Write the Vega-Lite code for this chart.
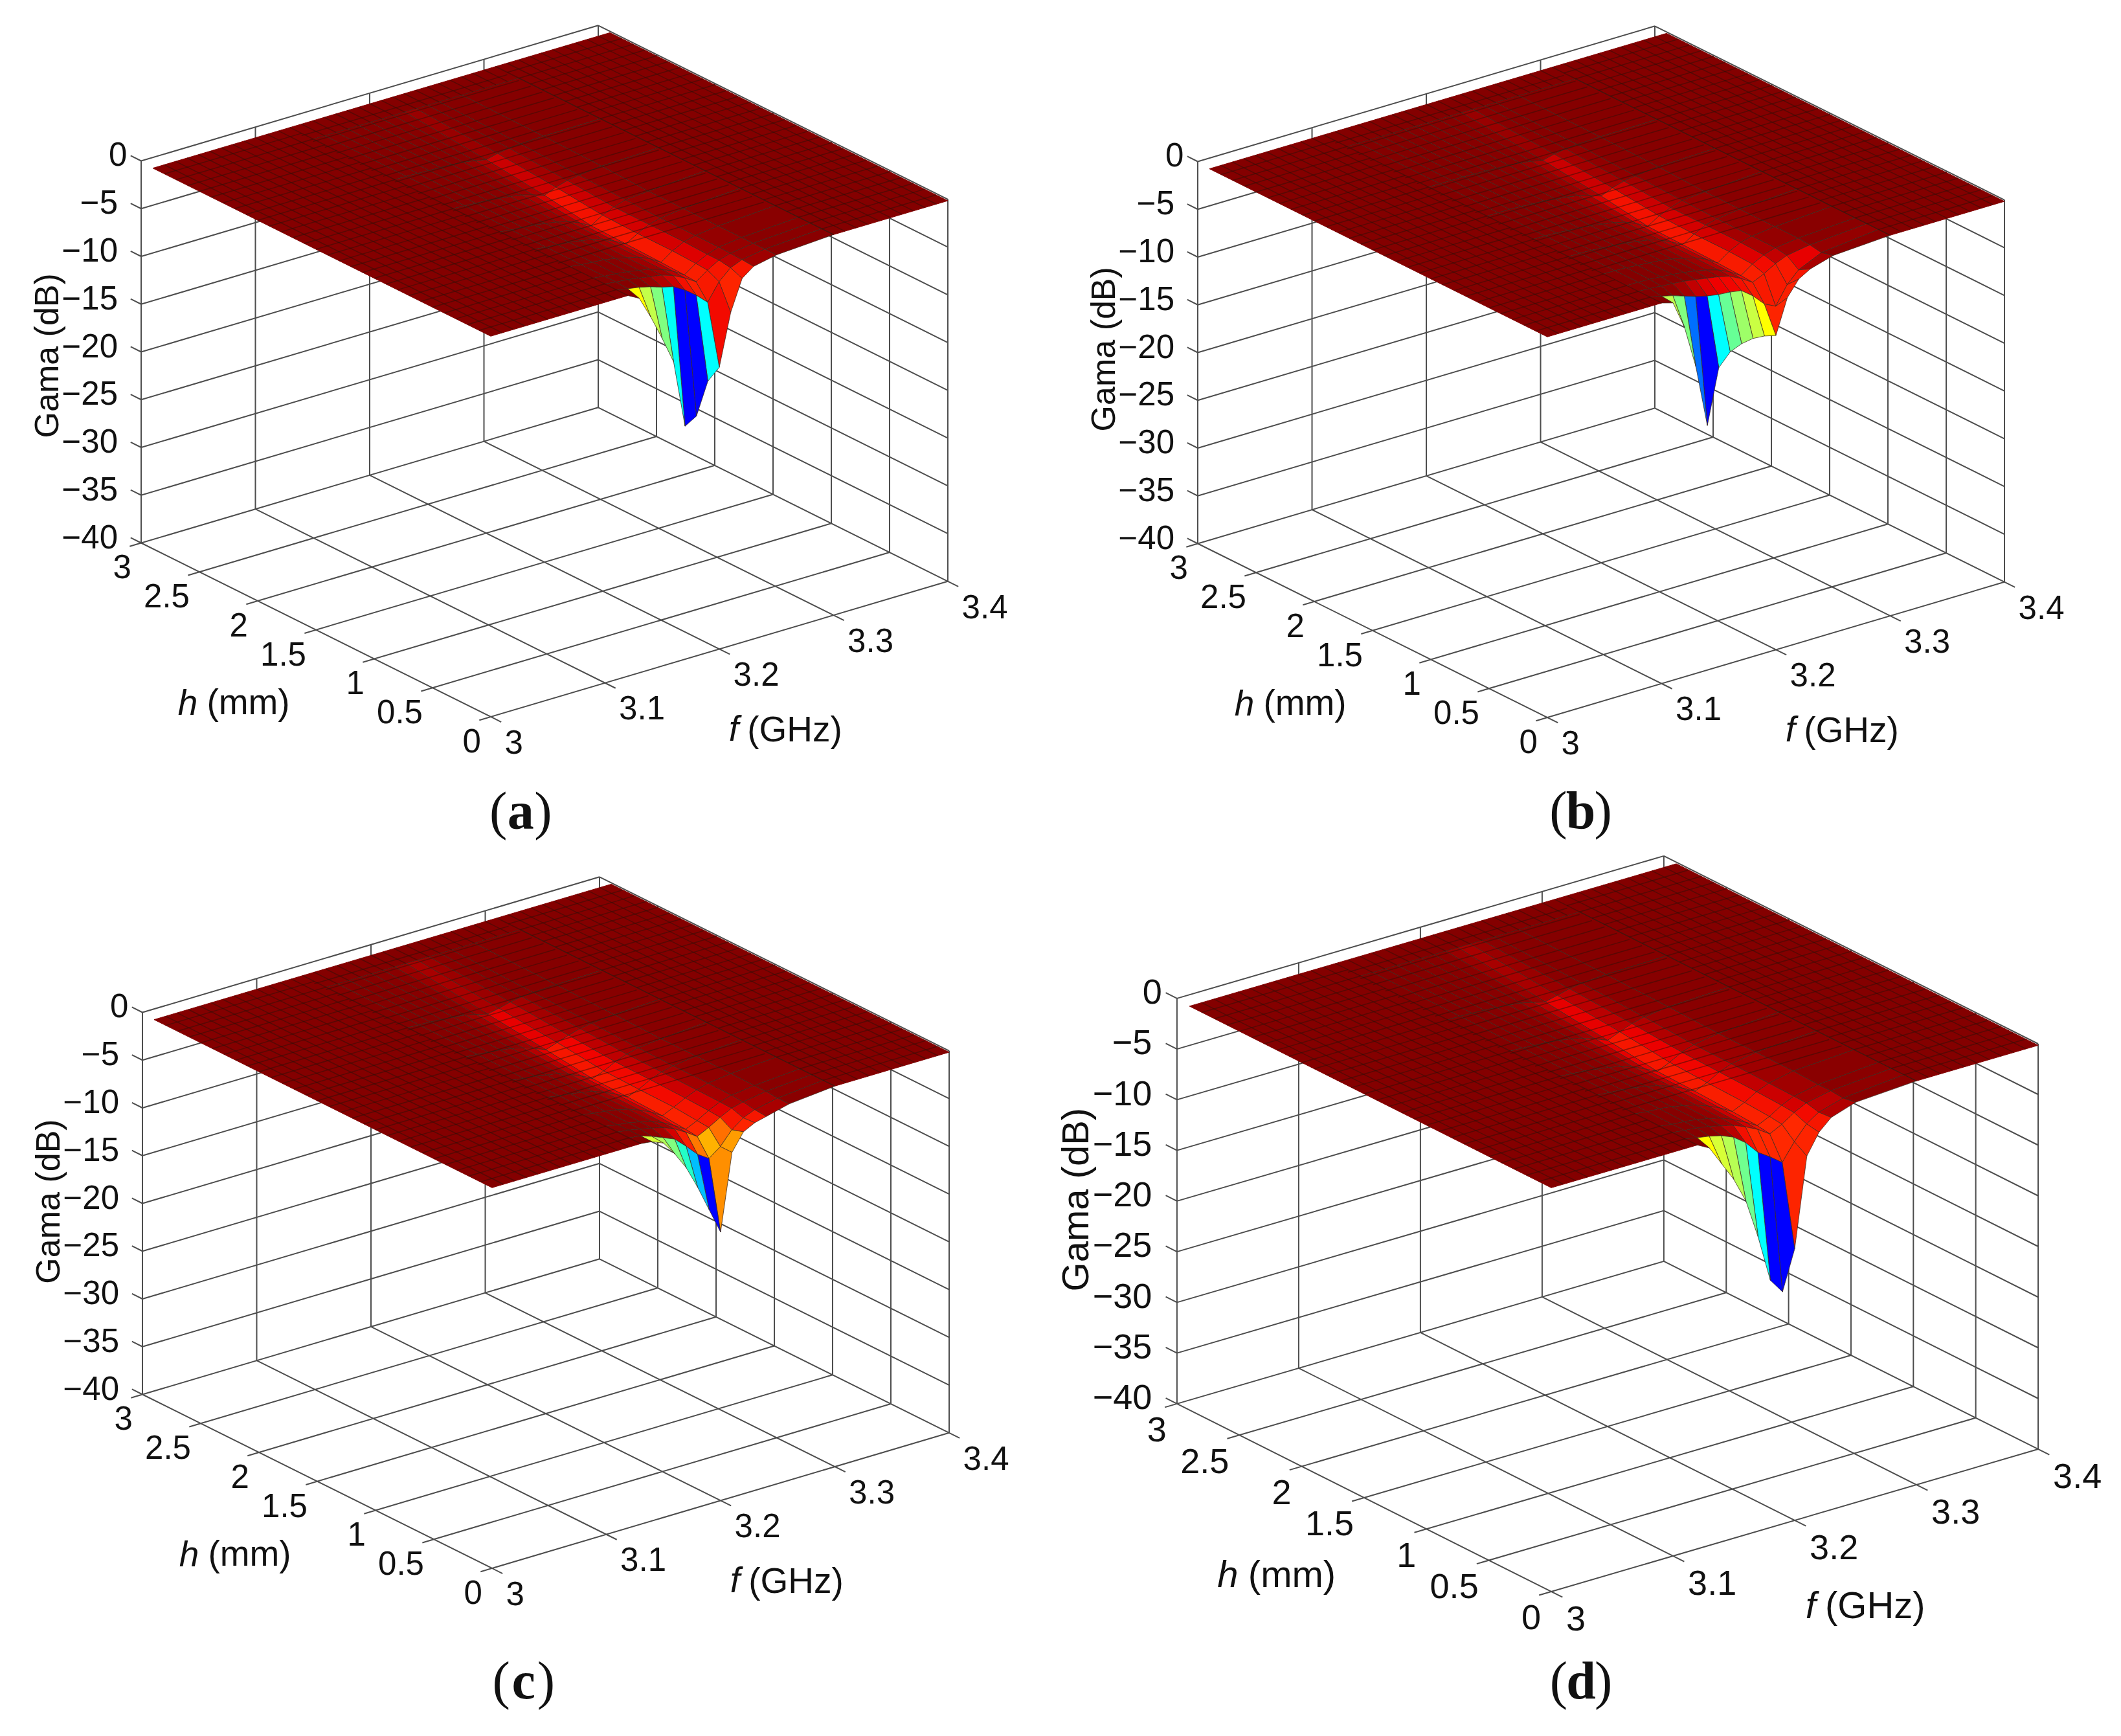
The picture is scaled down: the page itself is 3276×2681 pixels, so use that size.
{"$schema":"https://vega.github.io/schema/vega-lite/v6.json","width":3276,"height":2681,"autosize":{"type":"fit","contains":"padding"},"padding":0,"background":"white","config":{"view":{"stroke":null}},
"params":[{"name":"P","expr":"{a:{x:758,y:1107,fx:1765,fy:-523,hx:-180,hy:-89.5,gy:14.75,w1:3.12,cf:2.911,ch:-1.13,fs:51,ts:55,gs:52,gg:-25.25},b:{x:2390,y:1108,fx:1765,fy:-523,hx:-180,hy:-89.5,gy:14.75,w1:3.10,cf:2.914,ch:-1.13,fs:51,ts:55,gs:52,gg:-24.5},c:{x:760,y:2422,fx:1765,fy:-523,hx:-180,hy:-89.5,gy:14.75,w1:3.13,cf:2.892,ch:-1.33,fs:51,ts:55,gs:52,gg:-24.65},d:{x:2396,y:2458,fx:1880,fy:-550,hx:-192.7,hy:-96.7,gy:15.65,w1:3.12,cf:2.922,ch:-1.0,fs:54,ts:58,gs:58,gg:-24.8}}"},{"name":"A","expr":"{h:[2.843,1.145,-40],hu:[2.859,1.054,-40],f:[3.116,-0.906,-40],fu:[3.126,-0.966,-40]}"}],
"encoding":{"x":{"field":"X","type":"quantitative","axis":null,"scale":{"domain":[0,3276],"nice":false,"zero":false}},"y":{"field":"Y","type":"quantitative","axis":null,"scale":{"domain":[0,2681],"nice":false,"zero":false,"reverse":true}}},
"datasets":{
"box":[{"k":"F","v":3},{"k":"F","v":3.1},{"k":"F","v":3.2},{"k":"F","v":3.3},{"k":"F","v":3.4},{"k":"H","v":0},{"k":"H","v":0.5},{"k":"H","v":1},{"k":"H","v":1.5},{"k":"H","v":2},{"k":"H","v":2.5},{"k":"H","v":3},{"k":"VL","v":3},{"k":"VL","v":3.1},{"k":"VL","v":3.2},{"k":"VL","v":3.3},{"k":"VL","v":3.4},{"k":"VR","v":0},{"k":"VR","v":0.5},{"k":"VR","v":1},{"k":"VR","v":1.5},{"k":"VR","v":2},{"k":"VR","v":2.5},{"k":"GT","v":-40},{"k":"GT","v":-35},{"k":"GT","v":-30},{"k":"GT","v":-25},{"k":"GT","v":-20},{"k":"GT","v":-15},{"k":"GT","v":-10},{"k":"GT","v":-5},{"k":"GT","v":0},{"k":"GL","v":-35},{"k":"GL","v":-30},{"k":"GL","v":-25},{"k":"GL","v":-20},{"k":"GL","v":-15},{"k":"GL","v":-10},{"k":"GL","v":-5},{"k":"GL","v":0},{"k":"GR","v":-35},{"k":"GR","v":-30},{"k":"GR","v":-25},{"k":"GR","v":-20},{"k":"GR","v":-15},{"k":"GR","v":-10},{"k":"GR","v":-5},{"k":"GR","v":0}],
"patches":[{"p":"a","z":"far"},{"p":"a","z":"mid"},{"p":"a","z":"near"},{"p":"b","z":"far"},{"p":"b","z":"mid"},{"p":"b","z":"near"},{"p":"c","z":"far"},{"p":"c","z":"mid"},{"p":"c","z":"near"},{"p":"d","z":"far"},{"p":"d","z":"mid"},{"p":"d","z":"near"}],
"labels":[{"a":"g","v":0,"t":"0"},{"a":"g","v":-5,"t":"−5"},{"a":"g","v":-10,"t":"−10"},{"a":"g","v":-15,"t":"−15"},{"a":"g","v":-20,"t":"−20"},{"a":"g","v":-25,"t":"−25"},{"a":"g","v":-30,"t":"−30"},{"a":"g","v":-35,"t":"−35"},{"a":"g","v":-40,"t":"−40"},{"a":"h","v":0,"t":"0"},{"a":"h","v":0.5,"t":"0.5"},{"a":"h","v":1,"t":"1"},{"a":"h","v":1.5,"t":"1.5"},{"a":"h","v":2,"t":"2"},{"a":"h","v":2.5,"t":"2.5"},{"a":"h","v":3,"t":"3"},{"a":"f","v":3,"t":"3"},{"a":"f","v":3.1,"t":"3.1"},{"a":"f","v":3.2,"t":"3.2"},{"a":"f","v":3.3,"t":"3.3"},{"a":"f","v":3.4,"t":"3.4"}],
"titles":[{"k":"h","t":"h"},{"k":"f","t":"f"},{"k":"hu","t":"(mm)"},{"k":"fu","t":"(GHz)"},{"k":"g","t":"Gama (dB)"}],
"tags":[{"p":"a","l":"a"},{"p":"b","l":"b"},{"p":"c","l":"c"},{"p":"d","l":"d"}],
"flat":[{"k":"f","v":3.01},{"k":"f","v":3.02},{"k":"f","v":3.03},{"k":"f","v":3.04},{"k":"f","v":3.05},{"k":"f","v":3.06},{"k":"f","v":3.07},{"k":"f","v":3.08},{"k":"f","v":3.09},{"k":"f","v":3.1},{"k":"f","v":3.11},{"k":"f","v":3.12},{"k":"f","v":3.13},{"k":"f","v":3.14},{"k":"f","v":3.15},{"k":"f","v":3.16},{"k":"f","v":3.17},{"k":"f","v":3.18},{"k":"f","v":3.19},{"k":"f","v":3.2},{"k":"f","v":3.21},{"k":"f","v":3.22},{"k":"f","v":3.23},{"k":"f","v":3.24},{"k":"f","v":3.25},{"k":"f","v":3.26},{"k":"f","v":3.27},{"k":"f","v":3.28},{"k":"f","v":3.29},{"k":"f","v":3.3},{"k":"f","v":3.31},{"k":"f","v":3.32},{"k":"f","v":3.33},{"k":"f","v":3.34},{"k":"f","v":3.35},{"k":"f","v":3.36},{"k":"f","v":3.37},{"k":"f","v":3.38},{"k":"f","v":3.39},{"k":"h","v":0.1},{"k":"h","v":0.2},{"k":"h","v":0.3},{"k":"h","v":0.4},{"k":"h","v":0.5},{"k":"h","v":0.6},{"k":"h","v":0.7},{"k":"h","v":0.8},{"k":"h","v":0.9},{"k":"h","v":1},{"k":"h","v":1.1},{"k":"h","v":1.2},{"k":"h","v":1.3},{"k":"h","v":1.4},{"k":"h","v":1.5},{"k":"h","v":1.6},{"k":"h","v":1.7},{"k":"h","v":1.8},{"k":"h","v":1.9},{"k":"h","v":2},{"k":"h","v":2.1},{"k":"h","v":2.2},{"k":"h","v":2.3},{"k":"h","v":2.4},{"k":"h","v":2.5},{"k":"h","v":2.6},{"k":"h","v":2.7},{"k":"h","v":2.8}],
"nodes":[
{"p":"a","h":2.7,"f":3.3,"g":-0.15},{"p":"a","h":2.7,"f":3.25,"g":-0.15},{"p":"a","h":2.7,"f":3.23,"g":-0.15},{"p":"a","h":2.7,"f":3.22,"g":-0.15},{"p":"a","h":2.7,"f":3.21,"g":-0.15},{"p":"a","h":2.7,"f":3.2,"g":-0.15},{"p":"a","h":2.7,"f":3.19,"g":-0.15},{"p":"a","h":2.7,"f":3.18,"g":-0.15},{"p":"a","h":2.7,"f":3.17,"g":-0.15},{"p":"a","h":2.7,"f":3.16,"g":-0.15},{"p":"a","h":2.7,"f":3.15,"g":-0.15},{"p":"a","h":2.7,"f":3.14,"g":-0.15},{"p":"a","h":2.7,"f":3.13,"g":-0.15},{"p":"a","h":2.7,"f":3.12,"g":-0.15},
{"p":"a","h":2,"f":3.3,"g":-0.15},{"p":"a","h":2,"f":3.25,"g":-0.2},{"p":"a","h":2,"f":3.23,"g":-0.3},{"p":"a","h":2,"f":3.22,"g":-0.4},{"p":"a","h":2,"f":3.21,"g":-0.6},{"p":"a","h":2,"f":3.2,"g":-0.9},{"p":"a","h":2,"f":3.19,"g":-0.65},{"p":"a","h":2,"f":3.18,"g":-0.45},{"p":"a","h":2,"f":3.17,"g":-0.35},{"p":"a","h":2,"f":3.16,"g":-0.3},{"p":"a","h":2,"f":3.15,"g":-0.25},{"p":"a","h":2,"f":3.14,"g":-0.2},{"p":"a","h":2,"f":3.13,"g":-0.15},{"p":"a","h":2,"f":3.12,"g":-0.15},
{"p":"a","h":1.5,"f":3.3,"g":-0.15},{"p":"a","h":1.5,"f":3.25,"g":-0.3},{"p":"a","h":1.5,"f":3.23,"g":-0.55},{"p":"a","h":1.5,"f":3.22,"g":-0.75},{"p":"a","h":1.5,"f":3.21,"g":-1.1},{"p":"a","h":1.5,"f":3.2,"g":-1.6},{"p":"a","h":1.5,"f":3.19,"g":-1.2},{"p":"a","h":1.5,"f":3.18,"g":-0.85},{"p":"a","h":1.5,"f":3.17,"g":-0.65},{"p":"a","h":1.5,"f":3.16,"g":-0.5},{"p":"a","h":1.5,"f":3.15,"g":-0.35},{"p":"a","h":1.5,"f":3.14,"g":-0.3},{"p":"a","h":1.5,"f":3.13,"g":-0.2},{"p":"a","h":1.5,"f":3.12,"g":-0.15},
{"p":"a","h":1.1,"f":3.3,"g":-0.15},{"p":"a","h":1.1,"f":3.25,"g":-0.5},{"p":"a","h":1.1,"f":3.23,"g":-0.7},{"p":"a","h":1.1,"f":3.22,"g":-1.1},{"p":"a","h":1.1,"f":3.21,"g":-1.6},{"p":"a","h":1.1,"f":3.2,"g":-2.35},{"p":"a","h":1.1,"f":3.19,"g":-1.7},{"p":"a","h":1.1,"f":3.18,"g":-1.2},{"p":"a","h":1.1,"f":3.17,"g":-0.9},{"p":"a","h":1.1,"f":3.16,"g":-0.7},{"p":"a","h":1.1,"f":3.15,"g":-0.5},{"p":"a","h":1.1,"f":3.14,"g":-0.4},{"p":"a","h":1.1,"f":3.13,"g":-0.3},{"p":"a","h":1.1,"f":3.12,"g":-0.15},
{"p":"a","h":0.8,"f":3.3,"g":-0.15},{"p":"a","h":0.8,"f":3.25,"g":-0.5},{"p":"a","h":0.8,"f":3.23,"g":-0.8},{"p":"a","h":0.8,"f":3.22,"g":-1.1},{"p":"a","h":0.8,"f":3.21,"g":-1.7},{"p":"a","h":0.8,"f":3.2,"g":-2.45},{"p":"a","h":0.8,"f":3.19,"g":-1.8},{"p":"a","h":0.8,"f":3.18,"g":-1.25},{"p":"a","h":0.8,"f":3.17,"g":-0.9},{"p":"a","h":0.8,"f":3.16,"g":-0.7},{"p":"a","h":0.8,"f":3.15,"g":-0.5},{"p":"a","h":0.8,"f":3.14,"g":-0.4},{"p":"a","h":0.8,"f":3.13,"g":-0.3},{"p":"a","h":0.8,"f":3.12,"g":-0.15},
{"p":"a","h":0.5,"f":3.3,"g":-0.15},{"p":"a","h":0.5,"f":3.25,"g":-0.5},{"p":"a","h":0.5,"f":3.23,"g":-0.8},{"p":"a","h":0.5,"f":3.22,"g":-1.1},{"p":"a","h":0.5,"f":3.21,"g":-1.7},{"p":"a","h":0.5,"f":3.2,"g":-2.55},{"p":"a","h":0.5,"f":3.19,"g":-1.8},{"p":"a","h":0.5,"f":3.18,"g":-1.3},{"p":"a","h":0.5,"f":3.17,"g":-1},{"p":"a","h":0.5,"f":3.16,"g":-0.7},{"p":"a","h":0.5,"f":3.15,"g":-0.5},{"p":"a","h":0.5,"f":3.14,"g":-0.4},{"p":"a","h":0.5,"f":3.13,"g":-0.3},{"p":"a","h":0.5,"f":3.12,"g":-0.15},
{"p":"a","h":0.3,"f":3.3,"g":-0.15},{"p":"a","h":0.3,"f":3.25,"g":-0.5},{"p":"a","h":0.3,"f":3.23,"g":-0.8},{"p":"a","h":0.3,"f":3.22,"g":-1.2},{"p":"a","h":0.3,"f":3.21,"g":-1.8},{"p":"a","h":0.3,"f":3.2,"g":-2.65},{"p":"a","h":0.3,"f":3.19,"g":-1.9},{"p":"a","h":0.3,"f":3.18,"g":-1.35},{"p":"a","h":0.3,"f":3.17,"g":-1},{"p":"a","h":0.3,"f":3.16,"g":-0.75},{"p":"a","h":0.3,"f":3.15,"g":-0.55},{"p":"a","h":0.3,"f":3.14,"g":-0.4},{"p":"a","h":0.3,"f":3.13,"g":-0.3},{"p":"a","h":0.3,"f":3.12,"g":-0.15},
{"p":"a","h":0.2,"f":3.3,"g":-0.15},{"p":"a","h":0.2,"f":3.25,"g":-0.5},{"p":"a","h":0.2,"f":3.23,"g":-0.85},{"p":"a","h":0.2,"f":3.22,"g":-1.2},{"p":"a","h":0.2,"f":3.21,"g":-1.9},{"p":"a","h":0.2,"f":3.2,"g":-2.75},{"p":"a","h":0.2,"f":3.19,"g":-2},{"p":"a","h":0.2,"f":3.18,"g":-1.4},{"p":"a","h":0.2,"f":3.17,"g":-1},{"p":"a","h":0.2,"f":3.16,"g":-0.8},{"p":"a","h":0.2,"f":3.15,"g":-0.6},{"p":"a","h":0.2,"f":3.14,"g":-0.4},{"p":"a","h":0.2,"f":3.13,"g":-0.3},{"p":"a","h":0.2,"f":3.12,"g":-0.15},
{"p":"a","h":0.1,"f":3.3,"g":-0.15},{"p":"a","h":0.1,"f":3.25,"g":-0.5},{"p":"a","h":0.1,"f":3.23,"g":-0.9},{"p":"a","h":0.1,"f":3.22,"g":-1.4},{"p":"a","h":0.1,"f":3.21,"g":-2.5},{"p":"a","h":0.1,"f":3.2,"g":-4.3,"c":-2.6},{"p":"a","h":0.1,"f":3.19,"g":-3.2,"c":-2.8},{"p":"a","h":0.1,"f":3.18,"g":-2.3},{"p":"a","h":0.1,"f":3.17,"g":-1.6},{"p":"a","h":0.1,"f":3.16,"g":-1.3},{"p":"a","h":0.1,"f":3.15,"g":-0.9},{"p":"a","h":0.1,"f":3.14,"g":-0.6},{"p":"a","h":0.1,"f":3.13,"g":-0.4},{"p":"a","h":0.1,"f":3.12,"g":-0.15},
{"p":"a","h":0,"f":3.3,"g":-0.15},{"p":"a","h":0,"f":3.25,"g":-0.5},{"p":"a","h":0,"f":3.23,"g":-1},{"p":"a","h":0,"f":3.22,"g":-1.9,"c":-2.5},{"p":"a","h":0,"f":3.21,"g":-5.1,"c":-3},{"p":"a","h":0,"f":3.2,"g":-10.5,"c":-2.2},{"p":"a","h":0,"f":3.19,"g":-11.6,"c":-10},{"p":"a","h":0,"f":3.18,"g":-14.9,"c":-14},{"p":"a","h":0,"f":3.17,"g":-15.6,"c":-14},{"p":"a","h":0,"f":3.16,"g":-8.5,"c":-9.8},{"p":"a","h":0,"f":3.15,"g":-5.7,"c":-8},{"p":"a","h":0,"f":3.14,"g":-3.1,"c":-6.9},{"p":"a","h":0,"f":3.13,"g":-0.8,"c":-6},{"p":"a","h":0,"f":3.12,"g":-0.15},
{"p":"b","h":2.7,"f":3.3,"g":-0.15},{"p":"b","h":2.7,"f":3.25,"g":-0.15},{"p":"b","h":2.7,"f":3.23,"g":-0.15},{"p":"b","h":2.7,"f":3.22,"g":-0.15},{"p":"b","h":2.7,"f":3.21,"g":-0.15},{"p":"b","h":2.7,"f":3.2,"g":-0.15},{"p":"b","h":2.7,"f":3.19,"g":-0.15},{"p":"b","h":2.7,"f":3.18,"g":-0.15},{"p":"b","h":2.7,"f":3.17,"g":-0.15},{"p":"b","h":2.7,"f":3.16,"g":-0.15},{"p":"b","h":2.7,"f":3.15,"g":-0.15},{"p":"b","h":2.7,"f":3.14,"g":-0.15},{"p":"b","h":2.7,"f":3.13,"g":-0.15},{"p":"b","h":2.7,"f":3.12,"g":-0.15},{"p":"b","h":2.7,"f":3.11,"g":-0.15},{"p":"b","h":2.7,"f":3.1,"g":-0.15},
{"p":"b","h":2,"f":3.3,"g":-0.15},{"p":"b","h":2,"f":3.25,"g":-0.2},{"p":"b","h":2,"f":3.23,"g":-0.3},{"p":"b","h":2,"f":3.22,"g":-0.4},{"p":"b","h":2,"f":3.21,"g":-0.6},{"p":"b","h":2,"f":3.2,"g":-0.9},{"p":"b","h":2,"f":3.19,"g":-0.65},{"p":"b","h":2,"f":3.18,"g":-0.45},{"p":"b","h":2,"f":3.17,"g":-0.35},{"p":"b","h":2,"f":3.16,"g":-0.3},{"p":"b","h":2,"f":3.15,"g":-0.25},{"p":"b","h":2,"f":3.14,"g":-0.2},{"p":"b","h":2,"f":3.13,"g":-0.15},{"p":"b","h":2,"f":3.12,"g":-0.15},{"p":"b","h":2,"f":3.11,"g":-0.15},{"p":"b","h":2,"f":3.1,"g":-0.15},
{"p":"b","h":1.5,"f":3.3,"g":-0.15},{"p":"b","h":1.5,"f":3.25,"g":-0.3},{"p":"b","h":1.5,"f":3.23,"g":-0.55},{"p":"b","h":1.5,"f":3.22,"g":-0.75},{"p":"b","h":1.5,"f":3.21,"g":-1.1},{"p":"b","h":1.5,"f":3.2,"g":-1.6},{"p":"b","h":1.5,"f":3.19,"g":-1.2},{"p":"b","h":1.5,"f":3.18,"g":-0.85},{"p":"b","h":1.5,"f":3.17,"g":-0.65},{"p":"b","h":1.5,"f":3.16,"g":-0.5},{"p":"b","h":1.5,"f":3.15,"g":-0.35},{"p":"b","h":1.5,"f":3.14,"g":-0.3},{"p":"b","h":1.5,"f":3.13,"g":-0.2},{"p":"b","h":1.5,"f":3.12,"g":-0.15},{"p":"b","h":1.5,"f":3.11,"g":-0.15},{"p":"b","h":1.5,"f":3.1,"g":-0.15},
{"p":"b","h":1.1,"f":3.3,"g":-0.15},{"p":"b","h":1.1,"f":3.25,"g":-0.5},{"p":"b","h":1.1,"f":3.23,"g":-0.7},{"p":"b","h":1.1,"f":3.22,"g":-1.1},{"p":"b","h":1.1,"f":3.21,"g":-1.6},{"p":"b","h":1.1,"f":3.2,"g":-2.35},{"p":"b","h":1.1,"f":3.19,"g":-1.7},{"p":"b","h":1.1,"f":3.18,"g":-1.2},{"p":"b","h":1.1,"f":3.17,"g":-0.9},{"p":"b","h":1.1,"f":3.16,"g":-0.7},{"p":"b","h":1.1,"f":3.15,"g":-0.5},{"p":"b","h":1.1,"f":3.14,"g":-0.4},{"p":"b","h":1.1,"f":3.13,"g":-0.3},{"p":"b","h":1.1,"f":3.12,"g":-0.2},{"p":"b","h":1.1,"f":3.11,"g":-0.15},{"p":"b","h":1.1,"f":3.1,"g":-0.15},
{"p":"b","h":0.8,"f":3.3,"g":-0.15},{"p":"b","h":0.8,"f":3.25,"g":-0.5},{"p":"b","h":0.8,"f":3.23,"g":-0.8},{"p":"b","h":0.8,"f":3.22,"g":-1.1},{"p":"b","h":0.8,"f":3.21,"g":-1.7},{"p":"b","h":0.8,"f":3.2,"g":-2.45},{"p":"b","h":0.8,"f":3.19,"g":-1.8},{"p":"b","h":0.8,"f":3.18,"g":-1.25},{"p":"b","h":0.8,"f":3.17,"g":-0.9},{"p":"b","h":0.8,"f":3.16,"g":-0.7},{"p":"b","h":0.8,"f":3.15,"g":-0.5},{"p":"b","h":0.8,"f":3.14,"g":-0.4},{"p":"b","h":0.8,"f":3.13,"g":-0.3},{"p":"b","h":0.8,"f":3.12,"g":-0.2},{"p":"b","h":0.8,"f":3.11,"g":-0.15},{"p":"b","h":0.8,"f":3.1,"g":-0.15},
{"p":"b","h":0.5,"f":3.3,"g":-0.15},{"p":"b","h":0.5,"f":3.25,"g":-0.5},{"p":"b","h":0.5,"f":3.23,"g":-0.8},{"p":"b","h":0.5,"f":3.22,"g":-1.1},{"p":"b","h":0.5,"f":3.21,"g":-1.7},{"p":"b","h":0.5,"f":3.2,"g":-2.55},{"p":"b","h":0.5,"f":3.19,"g":-1.8},{"p":"b","h":0.5,"f":3.18,"g":-1.3},{"p":"b","h":0.5,"f":3.17,"g":-1},{"p":"b","h":0.5,"f":3.16,"g":-0.7},{"p":"b","h":0.5,"f":3.15,"g":-0.5},{"p":"b","h":0.5,"f":3.14,"g":-0.4},{"p":"b","h":0.5,"f":3.13,"g":-0.3},{"p":"b","h":0.5,"f":3.12,"g":-0.2},{"p":"b","h":0.5,"f":3.11,"g":-0.15},{"p":"b","h":0.5,"f":3.1,"g":-0.15},
{"p":"b","h":0.3,"f":3.3,"g":-0.15},{"p":"b","h":0.3,"f":3.25,"g":-0.5},{"p":"b","h":0.3,"f":3.23,"g":-0.8},{"p":"b","h":0.3,"f":3.22,"g":-1.2},{"p":"b","h":0.3,"f":3.21,"g":-1.8},{"p":"b","h":0.3,"f":3.2,"g":-2.65},{"p":"b","h":0.3,"f":3.19,"g":-1.9},{"p":"b","h":0.3,"f":3.18,"g":-1.35},{"p":"b","h":0.3,"f":3.17,"g":-1},{"p":"b","h":0.3,"f":3.16,"g":-0.75},{"p":"b","h":0.3,"f":3.15,"g":-0.55},{"p":"b","h":0.3,"f":3.14,"g":-0.4},{"p":"b","h":0.3,"f":3.13,"g":-0.3},{"p":"b","h":0.3,"f":3.12,"g":-0.2},{"p":"b","h":0.3,"f":3.11,"g":-0.15},{"p":"b","h":0.3,"f":3.1,"g":-0.15},
{"p":"b","h":0.2,"f":3.3,"g":-0.15},{"p":"b","h":0.2,"f":3.25,"g":-0.6},{"p":"b","h":0.2,"f":3.23,"g":-1},{"p":"b","h":0.2,"f":3.22,"g":-1.5},{"p":"b","h":0.2,"f":3.21,"g":-2.2},{"p":"b","h":0.2,"f":3.2,"g":-2.75},{"p":"b","h":0.2,"f":3.19,"g":-2},{"p":"b","h":0.2,"f":3.18,"g":-1.4},{"p":"b","h":0.2,"f":3.17,"g":-1.1},{"p":"b","h":0.2,"f":3.16,"g":-0.9},{"p":"b","h":0.2,"f":3.15,"g":-0.7},{"p":"b","h":0.2,"f":3.14,"g":-0.5},{"p":"b","h":0.2,"f":3.13,"g":-0.4},{"p":"b","h":0.2,"f":3.12,"g":-0.3},{"p":"b","h":0.2,"f":3.11,"g":-0.2},{"p":"b","h":0.2,"f":3.1,"g":-0.15},
{"p":"b","h":0.1,"f":3.3,"g":-0.15},{"p":"b","h":0.1,"f":3.25,"g":-0.8},{"p":"b","h":0.1,"f":3.23,"g":-1.9},{"p":"b","h":0.1,"f":3.22,"g":-3.1,"c":-2.6},{"p":"b","h":0.1,"f":3.21,"g":-5,"c":-2.6},{"p":"b","h":0.1,"f":3.2,"g":-4.4,"c":-2.6},{"p":"b","h":0.1,"f":3.19,"g":-3.2,"c":-2.6},{"p":"b","h":0.1,"f":3.18,"g":-2.3},{"p":"b","h":0.1,"f":3.17,"g":-2.1},{"p":"b","h":0.1,"f":3.16,"g":-2},{"p":"b","h":0.1,"f":3.15,"g":-1.8},{"p":"b","h":0.1,"f":3.14,"g":-1.5},{"p":"b","h":0.1,"f":3.13,"g":-1.1},{"p":"b","h":0.1,"f":3.12,"g":-0.7},{"p":"b","h":0.1,"f":3.11,"g":-0.4},{"p":"b","h":0.1,"f":3.1,"g":-0.15},
{"p":"b","h":0,"f":3.3,"g":-0.15},{"p":"b","h":0,"f":3.25,"g":-0.5},{"p":"b","h":0,"f":3.23,"g":-1.2},{"p":"b","h":0,"f":3.22,"g":-1.9,"c":-2.5},{"p":"b","h":0,"f":3.21,"g":-3.5,"c":-2.8},{"p":"b","h":0,"f":3.2,"g":-7.1,"c":-3},{"p":"b","h":0,"f":3.19,"g":-6.8,"c":-6},{"p":"b","h":0,"f":3.18,"g":-6.7,"c":-6.8},{"p":"b","h":0,"f":3.17,"g":-6.9,"c":-7.5},{"p":"b","h":0,"f":3.16,"g":-7.4,"c":-8.3},{"p":"b","h":0,"f":3.15,"g":-8.7,"c":-10},{"p":"b","h":0,"f":3.14,"g":-14.4,"c":-14},{"p":"b","h":0,"f":3.13,"g":-7.9,"c":-13},{"p":"b","h":0,"f":3.12,"g":-3.4,"c":-8},{"p":"b","h":0,"f":3.11,"g":-0.5,"c":-7},{"p":"b","h":0,"f":3.1,"g":-0.15},
{"p":"c","h":2.7,"f":3.3,"g":-0.15},{"p":"c","h":2.7,"f":3.26,"g":-0.15},{"p":"c","h":2.7,"f":3.24,"g":-0.15},{"p":"c","h":2.7,"f":3.23,"g":-0.15},{"p":"c","h":2.7,"f":3.22,"g":-0.15},{"p":"c","h":2.7,"f":3.21,"g":-0.15},{"p":"c","h":2.7,"f":3.2,"g":-0.15},{"p":"c","h":2.7,"f":3.19,"g":-0.15},{"p":"c","h":2.7,"f":3.18,"g":-0.15},{"p":"c","h":2.7,"f":3.17,"g":-0.15},{"p":"c","h":2.7,"f":3.16,"g":-0.15},{"p":"c","h":2.7,"f":3.15,"g":-0.15},{"p":"c","h":2.7,"f":3.14,"g":-0.15},{"p":"c","h":2.7,"f":3.13,"g":-0.15},
{"p":"c","h":2,"f":3.3,"g":-0.15},{"p":"c","h":2,"f":3.26,"g":-0.25},{"p":"c","h":2,"f":3.24,"g":-0.35},{"p":"c","h":2,"f":3.23,"g":-0.45},{"p":"c","h":2,"f":3.22,"g":-0.65},{"p":"c","h":2,"f":3.21,"g":-0.95},{"p":"c","h":2,"f":3.2,"g":-1.2},{"p":"c","h":2,"f":3.19,"g":-0.9},{"p":"c","h":2,"f":3.18,"g":-0.6},{"p":"c","h":2,"f":3.17,"g":-0.45},{"p":"c","h":2,"f":3.16,"g":-0.35},{"p":"c","h":2,"f":3.15,"g":-0.25},{"p":"c","h":2,"f":3.14,"g":-0.2},{"p":"c","h":2,"f":3.13,"g":-0.15},
{"p":"c","h":1.5,"f":3.3,"g":-0.15},{"p":"c","h":1.5,"f":3.26,"g":-0.35},{"p":"c","h":1.5,"f":3.24,"g":-0.55},{"p":"c","h":1.5,"f":3.23,"g":-0.75},{"p":"c","h":1.5,"f":3.22,"g":-1.1},{"p":"c","h":1.5,"f":3.21,"g":-1.5},{"p":"c","h":1.5,"f":3.2,"g":-1.9},{"p":"c","h":1.5,"f":3.19,"g":-1.4},{"p":"c","h":1.5,"f":3.18,"g":-1},{"p":"c","h":1.5,"f":3.17,"g":-0.7},{"p":"c","h":1.5,"f":3.16,"g":-0.5},{"p":"c","h":1.5,"f":3.15,"g":-0.4},{"p":"c","h":1.5,"f":3.14,"g":-0.25},{"p":"c","h":1.5,"f":3.13,"g":-0.15},
{"p":"c","h":1.1,"f":3.3,"g":-0.15},{"p":"c","h":1.1,"f":3.26,"g":-0.45},{"p":"c","h":1.1,"f":3.24,"g":-0.7},{"p":"c","h":1.1,"f":3.23,"g":-1},{"p":"c","h":1.1,"f":3.22,"g":-1.45},{"p":"c","h":1.1,"f":3.21,"g":-2.05},{"p":"c","h":1.1,"f":3.2,"g":-2.5},{"p":"c","h":1.1,"f":3.19,"g":-1.85},{"p":"c","h":1.1,"f":3.18,"g":-1.35},{"p":"c","h":1.1,"f":3.17,"g":-0.9},{"p":"c","h":1.1,"f":3.16,"g":-0.7},{"p":"c","h":1.1,"f":3.15,"g":-0.45},{"p":"c","h":1.1,"f":3.14,"g":-0.35},{"p":"c","h":1.1,"f":3.13,"g":-0.15},
{"p":"c","h":0.8,"f":3.3,"g":-0.15},{"p":"c","h":0.8,"f":3.26,"g":-0.45},{"p":"c","h":0.8,"f":3.24,"g":-0.75},{"p":"c","h":0.8,"f":3.23,"g":-1.05},{"p":"c","h":0.8,"f":3.22,"g":-1.5},{"p":"c","h":0.8,"f":3.21,"g":-2.15},{"p":"c","h":0.8,"f":3.2,"g":-2.6},{"p":"c","h":0.8,"f":3.19,"g":-1.95},{"p":"c","h":0.8,"f":3.18,"g":-1.4},{"p":"c","h":0.8,"f":3.17,"g":-0.95},{"p":"c","h":0.8,"f":3.16,"g":-0.7},{"p":"c","h":0.8,"f":3.15,"g":-0.5},{"p":"c","h":0.8,"f":3.14,"g":-0.35},{"p":"c","h":0.8,"f":3.13,"g":-0.15},
{"p":"c","h":0.5,"f":3.3,"g":-0.15},{"p":"c","h":0.5,"f":3.26,"g":-0.45},{"p":"c","h":0.5,"f":3.24,"g":-0.75},{"p":"c","h":0.5,"f":3.23,"g":-1.1},{"p":"c","h":0.5,"f":3.22,"g":-1.6},{"p":"c","h":0.5,"f":3.21,"g":-2.2},{"p":"c","h":0.5,"f":3.2,"g":-2.75},{"p":"c","h":0.5,"f":3.19,"g":-2},{"p":"c","h":0.5,"f":3.18,"g":-1.45},{"p":"c","h":0.5,"f":3.17,"g":-1},{"p":"c","h":0.5,"f":3.16,"g":-0.7},{"p":"c","h":0.5,"f":3.15,"g":-0.5},{"p":"c","h":0.5,"f":3.14,"g":-0.35},{"p":"c","h":0.5,"f":3.13,"g":-0.15},
{"p":"c","h":0.3,"f":3.3,"g":-0.15},{"p":"c","h":0.3,"f":3.26,"g":-0.5},{"p":"c","h":0.3,"f":3.24,"g":-0.8},{"p":"c","h":0.3,"f":3.23,"g":-1.15},{"p":"c","h":0.3,"f":3.22,"g":-1.7},{"p":"c","h":0.3,"f":3.21,"g":-2.4},{"p":"c","h":0.3,"f":3.2,"g":-2.95},{"p":"c","h":0.3,"f":3.19,"g":-2.2},{"p":"c","h":0.3,"f":3.18,"g":-1.55},{"p":"c","h":0.3,"f":3.17,"g":-1.05},{"p":"c","h":0.3,"f":3.16,"g":-0.75},{"p":"c","h":0.3,"f":3.15,"g":-0.5},{"p":"c","h":0.3,"f":3.14,"g":-0.35},{"p":"c","h":0.3,"f":3.13,"g":-0.15},
{"p":"c","h":0.2,"f":3.3,"g":-0.15},{"p":"c","h":0.2,"f":3.26,"g":-0.5},{"p":"c","h":0.2,"f":3.24,"g":-0.9},{"p":"c","h":0.2,"f":3.23,"g":-1.2},{"p":"c","h":0.2,"f":3.22,"g":-1.8},{"p":"c","h":0.2,"f":3.21,"g":-2.5},{"p":"c","h":0.2,"f":3.2,"g":-3.1},{"p":"c","h":0.2,"f":3.19,"g":-2.3},{"p":"c","h":0.2,"f":3.18,"g":-1.6},{"p":"c","h":0.2,"f":3.17,"g":-1.1},{"p":"c","h":0.2,"f":3.16,"g":-0.8},{"p":"c","h":0.2,"f":3.15,"g":-0.55},{"p":"c","h":0.2,"f":3.14,"g":-0.3},{"p":"c","h":0.2,"f":3.13,"g":-0.15},
{"p":"c","h":0.1,"f":3.3,"g":-0.15},{"p":"c","h":0.1,"f":3.26,"g":-0.6},{"p":"c","h":0.1,"f":3.24,"g":-1.1},{"p":"c","h":0.1,"f":3.23,"g":-1.6},{"p":"c","h":0.1,"f":3.22,"g":-2.5},{"p":"c","h":0.1,"f":3.21,"g":-3.9},{"p":"c","h":0.1,"f":3.2,"g":-4.8},{"p":"c","h":0.1,"f":3.19,"g":-4},{"p":"c","h":0.1,"f":3.18,"g":-2.8},{"p":"c","h":0.1,"f":3.17,"g":-1.7},{"p":"c","h":0.1,"f":3.16,"g":-1.2},{"p":"c","h":0.1,"f":3.15,"g":-0.7},{"p":"c","h":0.1,"f":3.14,"g":-0.3},{"p":"c","h":0.1,"f":3.13,"g":-0.15},
{"p":"c","h":0,"f":3.3,"g":-0.15},{"p":"c","h":0,"f":3.26,"g":-0.6},{"p":"c","h":0,"f":3.24,"g":-1.2},{"p":"c","h":0,"f":3.23,"g":-1.5,"c":-2.5},{"p":"c","h":0,"f":3.22,"g":-2.1,"c":-3},{"p":"c","h":0,"f":3.21,"g":-3.9,"c":-4.5},{"p":"c","h":0,"f":3.2,"g":-11.9,"c":-4.3},{"p":"c","h":0,"f":3.19,"g":-9.2,"c":-14},{"p":"c","h":0,"f":3.18,"g":-6.5,"c":-11.5},{"p":"c","h":0,"f":3.17,"g":-4.1,"c":-9},{"p":"c","h":0,"f":3.16,"g":-2.3,"c":-8},{"p":"c","h":0,"f":3.15,"g":-0.8,"c":-7.2},{"p":"c","h":0,"f":3.14,"g":-0.3,"c":-6.6},{"p":"c","h":0,"f":3.13,"g":-0.15},
{"p":"d","h":2.7,"f":3.3,"g":-0.15},{"p":"d","h":2.7,"f":3.25,"g":-0.15},{"p":"d","h":2.7,"f":3.23,"g":-0.15},{"p":"d","h":2.7,"f":3.22,"g":-0.15},{"p":"d","h":2.7,"f":3.21,"g":-0.15},{"p":"d","h":2.7,"f":3.2,"g":-0.15},{"p":"d","h":2.7,"f":3.19,"g":-0.15},{"p":"d","h":2.7,"f":3.18,"g":-0.15},{"p":"d","h":2.7,"f":3.17,"g":-0.15},{"p":"d","h":2.7,"f":3.16,"g":-0.15},{"p":"d","h":2.7,"f":3.15,"g":-0.15},{"p":"d","h":2.7,"f":3.14,"g":-0.15},{"p":"d","h":2.7,"f":3.13,"g":-0.15},{"p":"d","h":2.7,"f":3.12,"g":-0.15},
{"p":"d","h":2,"f":3.3,"g":-0.15},{"p":"d","h":2,"f":3.25,"g":-0.25},{"p":"d","h":2,"f":3.23,"g":-0.4},{"p":"d","h":2,"f":3.22,"g":-0.6},{"p":"d","h":2,"f":3.21,"g":-0.9},{"p":"d","h":2,"f":3.2,"g":-1.2},{"p":"d","h":2,"f":3.19,"g":-0.9},{"p":"d","h":2,"f":3.18,"g":-0.6},{"p":"d","h":2,"f":3.17,"g":-0.45},{"p":"d","h":2,"f":3.16,"g":-0.35},{"p":"d","h":2,"f":3.15,"g":-0.25},{"p":"d","h":2,"f":3.14,"g":-0.2},{"p":"d","h":2,"f":3.13,"g":-0.15},{"p":"d","h":2,"f":3.12,"g":-0.15},
{"p":"d","h":1.5,"f":3.3,"g":-0.15},{"p":"d","h":1.5,"f":3.25,"g":-0.35},{"p":"d","h":1.5,"f":3.23,"g":-0.65},{"p":"d","h":1.5,"f":3.22,"g":-0.95},{"p":"d","h":1.5,"f":3.21,"g":-1.4},{"p":"d","h":1.5,"f":3.2,"g":-1.9},{"p":"d","h":1.5,"f":3.19,"g":-1.4},{"p":"d","h":1.5,"f":3.18,"g":-1},{"p":"d","h":1.5,"f":3.17,"g":-0.7},{"p":"d","h":1.5,"f":3.16,"g":-0.5},{"p":"d","h":1.5,"f":3.15,"g":-0.35},{"p":"d","h":1.5,"f":3.14,"g":-0.3},{"p":"d","h":1.5,"f":3.13,"g":-0.2},{"p":"d","h":1.5,"f":3.12,"g":-0.15},
{"p":"d","h":1.1,"f":3.3,"g":-0.15},{"p":"d","h":1.1,"f":3.25,"g":-0.5},{"p":"d","h":1.1,"f":3.23,"g":-0.9},{"p":"d","h":1.1,"f":3.22,"g":-1.3},{"p":"d","h":1.1,"f":3.21,"g":-1.95},{"p":"d","h":1.1,"f":3.2,"g":-2.5},{"p":"d","h":1.1,"f":3.19,"g":-1.9},{"p":"d","h":1.1,"f":3.18,"g":-1.35},{"p":"d","h":1.1,"f":3.17,"g":-0.95},{"p":"d","h":1.1,"f":3.16,"g":-0.7},{"p":"d","h":1.1,"f":3.15,"g":-0.5},{"p":"d","h":1.1,"f":3.14,"g":-0.35},{"p":"d","h":1.1,"f":3.13,"g":-0.25},{"p":"d","h":1.1,"f":3.12,"g":-0.15},
{"p":"d","h":0.8,"f":3.3,"g":-0.15},{"p":"d","h":0.8,"f":3.25,"g":-0.5},{"p":"d","h":0.8,"f":3.23,"g":-0.95},{"p":"d","h":0.8,"f":3.22,"g":-1.4},{"p":"d","h":0.8,"f":3.21,"g":-2.1},{"p":"d","h":0.8,"f":3.2,"g":-2.6},{"p":"d","h":0.8,"f":3.19,"g":-1.95},{"p":"d","h":0.8,"f":3.18,"g":-1.4},{"p":"d","h":0.8,"f":3.17,"g":-1},{"p":"d","h":0.8,"f":3.16,"g":-0.7},{"p":"d","h":0.8,"f":3.15,"g":-0.5},{"p":"d","h":0.8,"f":3.14,"g":-0.35},{"p":"d","h":0.8,"f":3.13,"g":-0.25},{"p":"d","h":0.8,"f":3.12,"g":-0.15},
{"p":"d","h":0.5,"f":3.3,"g":-0.15},{"p":"d","h":0.5,"f":3.25,"g":-0.5},{"p":"d","h":0.5,"f":3.23,"g":-1},{"p":"d","h":0.5,"f":3.22,"g":-1.5},{"p":"d","h":0.5,"f":3.21,"g":-2.2},{"p":"d","h":0.5,"f":3.2,"g":-2.75},{"p":"d","h":0.5,"f":3.19,"g":-2.05},{"p":"d","h":0.5,"f":3.18,"g":-1.5},{"p":"d","h":0.5,"f":3.17,"g":-1.05},{"p":"d","h":0.5,"f":3.16,"g":-0.75},{"p":"d","h":0.5,"f":3.15,"g":-0.5},{"p":"d","h":0.5,"f":3.14,"g":-0.35},{"p":"d","h":0.5,"f":3.13,"g":-0.3},{"p":"d","h":0.5,"f":3.12,"g":-0.15},
{"p":"d","h":0.3,"f":3.3,"g":-0.15},{"p":"d","h":0.3,"f":3.25,"g":-0.6},{"p":"d","h":0.3,"f":3.23,"g":-1.05},{"p":"d","h":0.3,"f":3.22,"g":-1.6},{"p":"d","h":0.3,"f":3.21,"g":-2.35},{"p":"d","h":0.3,"f":3.2,"g":-2.9},{"p":"d","h":0.3,"f":3.19,"g":-2.2},{"p":"d","h":0.3,"f":3.18,"g":-1.6},{"p":"d","h":0.3,"f":3.17,"g":-1.1},{"p":"d","h":0.3,"f":3.16,"g":-0.8},{"p":"d","h":0.3,"f":3.15,"g":-0.55},{"p":"d","h":0.3,"f":3.14,"g":-0.4},{"p":"d","h":0.3,"f":3.13,"g":-0.3},{"p":"d","h":0.3,"f":3.12,"g":-0.15},
{"p":"d","h":0.2,"f":3.3,"g":-0.15},{"p":"d","h":0.2,"f":3.25,"g":-0.6},{"p":"d","h":0.2,"f":3.23,"g":-1.1},{"p":"d","h":0.2,"f":3.22,"g":-1.7},{"p":"d","h":0.2,"f":3.21,"g":-2.5},{"p":"d","h":0.2,"f":3.2,"g":-3.1},{"p":"d","h":0.2,"f":3.19,"g":-2.3},{"p":"d","h":0.2,"f":3.18,"g":-1.7},{"p":"d","h":0.2,"f":3.17,"g":-1.2},{"p":"d","h":0.2,"f":3.16,"g":-0.9},{"p":"d","h":0.2,"f":3.15,"g":-0.6},{"p":"d","h":0.2,"f":3.14,"g":-0.4},{"p":"d","h":0.2,"f":3.13,"g":-0.3},{"p":"d","h":0.2,"f":3.12,"g":-0.15},
{"p":"d","h":0.1,"f":3.3,"g":-0.15},{"p":"d","h":0.1,"f":3.25,"g":-0.7},{"p":"d","h":0.1,"f":3.23,"g":-1.4},{"p":"d","h":0.1,"f":3.22,"g":-2.2},{"p":"d","h":0.1,"f":3.21,"g":-3.6,"c":-3.2},{"p":"d","h":0.1,"f":3.2,"g":-5.3,"c":-3.2},{"p":"d","h":0.1,"f":3.19,"g":-4.4,"c":-3.2},{"p":"d","h":0.1,"f":3.18,"g":-3.6,"c":-3.2},{"p":"d","h":0.1,"f":3.17,"g":-2.3},{"p":"d","h":0.1,"f":3.16,"g":-1.4},{"p":"d","h":0.1,"f":3.15,"g":-0.9},{"p":"d","h":0.1,"f":3.14,"g":-0.6},{"p":"d","h":0.1,"f":3.13,"g":-0.4},{"p":"d","h":0.1,"f":3.12,"g":-0.15},
{"p":"d","h":0,"f":3.3,"g":-0.15},{"p":"d","h":0,"f":3.25,"g":-0.5},{"p":"d","h":0,"f":3.23,"g":-1.3},{"p":"d","h":0,"f":3.22,"g":-2.4,"c":-2.5},{"p":"d","h":0,"f":3.21,"g":-4.4,"c":-3},{"p":"d","h":0,"f":3.2,"g":-13.2,"c":-3},{"p":"d","h":0,"f":3.19,"g":-17.1,"c":-14},{"p":"d","h":0,"f":3.18,"g":-15.6,"c":-14},{"p":"d","h":0,"f":3.17,"g":-11,"c":-10},{"p":"d","h":0,"f":3.16,"g":-7.1,"c":-8.2},{"p":"d","h":0,"f":3.15,"g":-4.6,"c":-7.1},{"p":"d","h":0,"f":3.14,"g":-2.7,"c":-6.6},{"p":"d","h":0,"f":3.13,"g":-0.8,"c":-6},{"p":"d","h":0,"f":3.12,"g":-0.15}
]},
"layer":[
{"data":{"name":"box"},"mark":{"type":"rule","stroke":"#4d4d4d","strokeWidth":2},
"transform":[{"calculate":"['a','b','c','d']","as":"p"},{"flatten":["p"]},
{"calculate":"datum.k=='F'||datum.k=='VL'?datum.v:datum.k=='H'?2.99:datum.k=='VR'||datum.k=='GR'?3.4:3","as":"f1"},
{"calculate":"datum.k=='F'||datum.k=='VL'?datum.v:datum.k=='VR'||datum.k=='GR'||datum.k=='H'||datum.k=='GL'?3.4:3","as":"f2"},
{"calculate":"datum.k=='F'?-0.09:datum.k=='H'||datum.k=='VR'?datum.v:datum.k=='GT'?3.09:3","as":"h1"},
{"calculate":"datum.k=='H'||datum.k=='VR'?datum.v:datum.k=='GR'?0:3","as":"h2"},
{"calculate":"datum.k[0]=='G'?datum.v:-40","as":"g1"},
{"calculate":"datum.k[0]=='G'?datum.v:(datum.k=='VL'||datum.k=='VR')?0:-40","as":"g2"},
{"calculate":"P[datum.p].x+(datum.f1-3)*P[datum.p].fx+datum.h1*P[datum.p].hx","as":"X"},
{"calculate":"P[datum.p].y+(datum.f1-3)*P[datum.p].fy+datum.h1*P[datum.p].hy-(datum.g1+40)*P[datum.p].gy","as":"Y"},
{"calculate":"P[datum.p].x+(datum.f2-3)*P[datum.p].fx+datum.h2*P[datum.p].hx","as":"X2"},
{"calculate":"P[datum.p].y+(datum.f2-3)*P[datum.p].fy+datum.h2*P[datum.p].hy-(datum.g2+40)*P[datum.p].gy","as":"Y2"}],
"encoding":{"x2":{"field":"X2"},"y2":{"field":"Y2"}}},
{"data":{"name":"patches"},"mark":{"type":"line","interpolate":"linear-closed","fill":"#840000","stroke":"#840000","strokeWidth":1},
"transform":[{"filter":"datum.z!='near'"},
{"calculate":"datum.z=='far'?3.3:P[datum.p].w1","as":"F1"},{"calculate":"datum.z=='far'?3.4:3.3","as":"F2"},{"calculate":"datum.z=='mid'?2.7:0","as":"H1"},
{"calculate":"[0,1,2,3]","as":"v"},{"flatten":["v"]},
{"calculate":"datum.v==0||datum.v==3?datum.F1:datum.F2","as":"vf"},{"calculate":"datum.v<2?datum.H1:2.9","as":"vh"},
{"calculate":"P[datum.p].x+(datum.vf-3)*P[datum.p].fx+datum.vh*P[datum.p].hx","as":"X"},
{"calculate":"P[datum.p].y+(datum.vf-3)*P[datum.p].fy+datum.vh*P[datum.p].hy-39.85*P[datum.p].gy","as":"Y"},
{"calculate":"datum.p+datum.z","as":"id"}],
"encoding":{"detail":{"field":"id"},"order":{"field":"v","type":"quantitative"}}},
{"data":{"name":"nodes"},"mark":{"type":"line","interpolate":"linear-closed","stroke":"#3b2a1e","strokeWidth":1,"strokeOpacity":0.75},
"transform":[
{"window":[{"op":"lead","field":"g","as":"gr"},{"op":"lead","field":"f","as":"fr"}],"groupby":["p","h"],"sort":[{"field":"f","order":"ascending"}]},
{"window":[{"op":"lead","field":"g","as":"gu"},{"op":"lead","field":"gr","as":"gd"},{"op":"lead","field":"h","as":"hr"}],"groupby":["p","f"],"sort":[{"field":"h","order":"ascending"}]},
{"filter":"isValid(datum.fr)&&isValid(datum.hr)"},
{"calculate":"isValid(datum.c)?datum.c:datum.g","as":"cv"},
{"calculate":"datum.p+'_'+datum.f+'_'+datum.h","as":"id"},
{"calculate":"[0,1,2,3]","as":"v"},{"flatten":["v"]},
{"calculate":"datum.v==0||datum.v==3?datum.f:datum.fr","as":"vf"},{"calculate":"datum.v<2?datum.h:datum.hr","as":"vh"},
{"calculate":"[datum.g,datum.gr,datum.gd,datum.gu][datum.v]","as":"vg"},
{"calculate":"P[datum.p].x+(datum.vf-3)*P[datum.p].fx+datum.vh*P[datum.p].hx","as":"X"},
{"calculate":"P[datum.p].y+(datum.vf-3)*P[datum.p].fy+datum.vh*P[datum.p].hy-(datum.vg+40)*P[datum.p].gy","as":"Y"}],
"encoding":{"detail":{"field":"id"},"order":{"field":"v","type":"quantitative"},"fill":{"field":"cv","type":"quantitative","legend":null,"scale":{"domain":[-16,-14,-10,-8,-6,-3.2,-2,-1.2,-0.6,-0.15],"range":["#00008f","#0000ff","#00ffff","#80ff80","#ffff00","#ff2800","#f00000","#a80000","#8a0000","#840000"],"clamp":true}}}},
{"data":{"name":"patches"},"mark":{"type":"line","interpolate":"linear-closed","fill":"#840000","stroke":"#840000","strokeWidth":1},
"transform":[{"filter":"datum.z=='near'"},
{"calculate":"3","as":"F1"},{"calculate":"P[datum.p].w1","as":"F2"},{"calculate":"0","as":"H1"},
{"calculate":"[0,1,2,3]","as":"v"},{"flatten":["v"]},
{"calculate":"datum.v==0||datum.v==3?datum.F1:datum.F2","as":"vf"},{"calculate":"datum.v<2?datum.H1:2.9","as":"vh"},
{"calculate":"P[datum.p].x+(datum.vf-3)*P[datum.p].fx+datum.vh*P[datum.p].hx","as":"X"},
{"calculate":"P[datum.p].y+(datum.vf-3)*P[datum.p].fy+datum.vh*P[datum.p].hy-39.85*P[datum.p].gy","as":"Y"},
{"calculate":"datum.p+datum.z","as":"id"}],
"encoding":{"detail":{"field":"id"},"order":{"field":"v","type":"quantitative"}}},
{"data":{"name":"flat"},"mark":{"type":"rule","stroke":"#2c1008","strokeWidth":1.5,"strokeOpacity":0.5},
"transform":[{"calculate":"['a','b','c','d']","as":"p"},{"flatten":["p"]},{"calculate":"[0,1,2]","as":"s"},{"flatten":["s"]},
{"filter":"datum.k=='h'?(datum.s<2||datum.v>=0.6):datum.s==0"},
{"calculate":"datum.k=='f'?datum.v:(datum.s==0?3:datum.s==1?3.3:P[datum.p].w1)","as":"f1"},
{"calculate":"datum.k=='f'?datum.v:(datum.s==0?P[datum.p].w1:datum.s==1?3.4:3.3)","as":"f2"},
{"calculate":"datum.k=='h'?datum.v:(datum.v>P[datum.p].w1&&datum.v<3.3?2.7:0)","as":"h1"},
{"calculate":"datum.k=='h'?datum.v:2.9","as":"h2"},
{"calculate":"datum.s==2?39.6:39.85","as":"gz"},
{"calculate":"P[datum.p].x+(datum.f1-3)*P[datum.p].fx+datum.h1*P[datum.p].hx","as":"X"},
{"calculate":"P[datum.p].y+(datum.f1-3)*P[datum.p].fy+datum.h1*P[datum.p].hy-datum.gz*P[datum.p].gy","as":"Y"},
{"calculate":"P[datum.p].x+(datum.f2-3)*P[datum.p].fx+datum.h2*P[datum.p].hx","as":"X2"},
{"calculate":"P[datum.p].y+(datum.f2-3)*P[datum.p].fy+datum.h2*P[datum.p].hy-datum.gz*P[datum.p].gy","as":"Y2"}],
"encoding":{"x2":{"field":"X2"},"y2":{"field":"Y2"}}},
{"data":{"name":"labels"},"mark":{"type":"text","align":"right","baseline":"middle","font":"Liberation Sans","color":"#111"},
"transform":[{"filter":"datum.a=='g'"},{"calculate":"['a','b','c','d']","as":"p"},{"flatten":["p"]},
{"calculate":"datum.v==0?3.12:3.2","as":"lh"},{"calculate":"datum.v==0?0.25:0.74","as":"lg"},
{"calculate":"P[datum.p].x+datum.lh*P[datum.p].hx","as":"X"},{"calculate":"P[datum.p].y+datum.lh*P[datum.p].hy-(datum.v-datum.lg+40)*P[datum.p].gy","as":"Y"},{"calculate":"P[datum.p].fs","as":"fs"}],
"encoding":{"text":{"field":"t"},"size":{"field":"fs","type":"quantitative","scale":null,"legend":null}}},
{"data":{"name":"labels"},"mark":{"type":"text","align":"right","baseline":"middle","font":"Liberation Sans","color":"#111"},
"transform":[{"filter":"datum.a=='h'"},{"calculate":"['a','b','c','d']","as":"p"},{"flatten":["p"]},
{"calculate":"P[datum.p].x-0.0085*P[datum.p].fx+datum.v*P[datum.p].hx","as":"X"},{"calculate":"P[datum.p].y-0.0085*P[datum.p].fy+datum.v*P[datum.p].hy+2.41*P[datum.p].gy","as":"Y"},{"calculate":"P[datum.p].fs","as":"fs"}],
"encoding":{"text":{"field":"t"},"size":{"field":"fs","type":"quantitative","scale":null,"legend":null}}},
{"data":{"name":"labels"},"mark":{"type":"text","align":"left","baseline":"middle","font":"Liberation Sans","color":"#111"},
"transform":[{"filter":"datum.a=='f'"},{"calculate":"['a','b','c','d']","as":"p"},{"flatten":["p"]},
{"calculate":"P[datum.p].x+(datum.v-3)*P[datum.p].fx-0.12*P[datum.p].hx","as":"X"},{"calculate":"P[datum.p].y+(datum.v-3)*P[datum.p].fy-0.12*P[datum.p].hy+2.1*P[datum.p].gy","as":"Y"},{"calculate":"P[datum.p].fs","as":"fs"}],
"encoding":{"text":{"field":"t"},"size":{"field":"fs","type":"quantitative","scale":null,"legend":null}}},
{"data":{"name":"titles"},"mark":{"type":"text","align":"left","baseline":"middle","font":"Liberation Sans","fontStyle":"italic","color":"#111"},
"transform":[{"filter":"datum.k=='h'||datum.k=='f'"},{"calculate":"['a','b','c','d']","as":"p"},{"flatten":["p"]},
{"calculate":"P[datum.p].x+(A[datum.k][0]-3)*P[datum.p].fx+A[datum.k][1]*P[datum.p].hx","as":"X"},{"calculate":"P[datum.p].y+(A[datum.k][0]-3)*P[datum.p].fy+A[datum.k][1]*P[datum.p].hy","as":"Y"},{"calculate":"P[datum.p].ts","as":"fs"}],
"encoding":{"text":{"field":"t"},"size":{"field":"fs","type":"quantitative","scale":null,"legend":null}}},
{"data":{"name":"titles"},"mark":{"type":"text","align":"left","baseline":"middle","font":"Liberation Sans","color":"#111"},
"transform":[{"filter":"datum.k=='hu'||datum.k=='fu'"},{"calculate":"['a','b','c','d']","as":"p"},{"flatten":["p"]},
{"calculate":"P[datum.p].x+(A[datum.k][0]-3)*P[datum.p].fx+A[datum.k][1]*P[datum.p].hx","as":"X"},{"calculate":"P[datum.p].y+(A[datum.k][0]-3)*P[datum.p].fy+A[datum.k][1]*P[datum.p].hy","as":"Y"},{"calculate":"P[datum.p].ts","as":"fs"}],
"encoding":{"text":{"field":"t"},"size":{"field":"fs","type":"quantitative","scale":null,"legend":null}}},
{"data":{"name":"titles"},"mark":{"type":"text","align":"center","baseline":"middle","angle":270,"font":"Liberation Sans","color":"#111"},
"transform":[{"filter":"datum.k=='g'"},{"calculate":"['a','b','c','d']","as":"p"},{"flatten":["p"]},
{"calculate":"P[datum.p].x+3.8*P[datum.p].hx","as":"X"},{"calculate":"P[datum.p].y+3.8*P[datum.p].hy-(P[datum.p].gg+40)*P[datum.p].gy","as":"Y"},{"calculate":"P[datum.p].gs","as":"fs"}],
"encoding":{"text":{"field":"t"},"size":{"field":"fs","type":"quantitative","scale":null,"legend":null}}},
{"data":{"name":"tags"},"mark":{"type":"text","align":"center","baseline":"middle","font":"Liberation Serif","fontSize":82,"fontWeight":"bold","color":"#111"},
"transform":[{"calculate":"P[datum.p].x+(P[datum.p].cf-3)*P[datum.p].fx+P[datum.p].ch*P[datum.p].hx","as":"X"},{"calculate":"P[datum.p].y+(P[datum.p].cf-3)*P[datum.p].fy+P[datum.p].ch*P[datum.p].hy","as":"Y"}],
"encoding":{"text":{"field":"l"}}},
{"data":{"name":"tags"},"mark":{"type":"text","align":"right","baseline":"middle","dx":-21,"font":"Liberation Serif","fontSize":82,"color":"#111"},
"transform":[{"calculate":"P[datum.p].x+(P[datum.p].cf-3)*P[datum.p].fx+P[datum.p].ch*P[datum.p].hx","as":"X"},{"calculate":"P[datum.p].y+(P[datum.p].cf-3)*P[datum.p].fy+P[datum.p].ch*P[datum.p].hy","as":"Y"},{"calculate":"'('","as":"br"}],
"encoding":{"text":{"field":"br"}}},
{"data":{"name":"tags"},"mark":{"type":"text","align":"left","baseline":"middle","dx":21,"font":"Liberation Serif","fontSize":82,"color":"#111"},
"transform":[{"calculate":"P[datum.p].x+(P[datum.p].cf-3)*P[datum.p].fx+P[datum.p].ch*P[datum.p].hx","as":"X"},{"calculate":"P[datum.p].y+(P[datum.p].cf-3)*P[datum.p].fy+P[datum.p].ch*P[datum.p].hy","as":"Y"},{"calculate":"')'","as":"br"}],
"encoding":{"text":{"field":"br"}}}
]}
